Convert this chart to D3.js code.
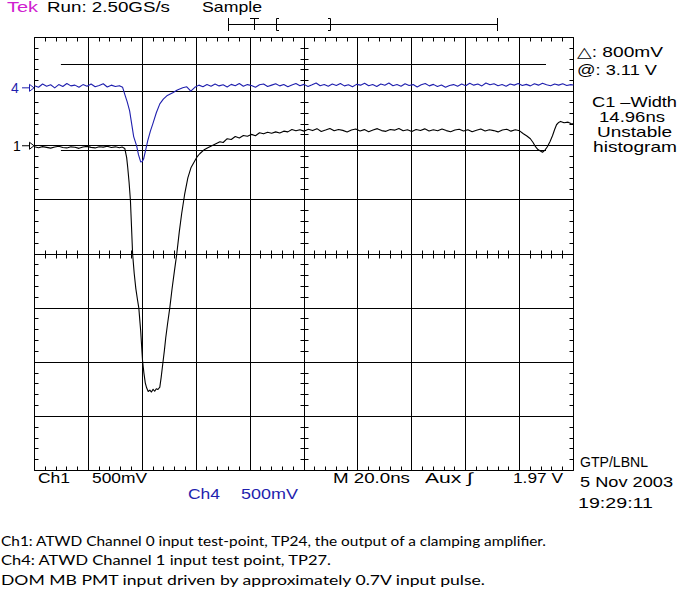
<!DOCTYPE html>
<html><head><meta charset="utf-8">
<script src="https://cdn.jsdelivr.net/npm/d3@7/dist/d3.min.js"></script>
<style>html,body{margin:0;padding:0;background:#fff;}svg{display:block;}</style>
</head><body>
<script>
// ---- data (time in ns, voltage in mV) ----
const timeTicks = [0,20,40,60,80,100,120,140,160,180,200];
const divTicks = [-4,-3,-2,-1,0,1,2,3,4];
const ch1Offset = 2.0;   // divisions
const ch4Offset = 3.07;  // divisions
const mvPerDiv = 500;
const cursorDivs = [3.51, 1.91]; // cursor positions in divisions (800 mV apart on Ch1)

const ch1 = [[0,-10],[1.5,-18],[3,-8],[4.5,-15],[6,-22],[7.5,-12],[9,-5],[10.5,-16],[12,-20],[13.5,-10],[15,-14],[16.5,-24],[18,-12],[19.5,-6],[21,-15],[22.5,-20],[24,-9],[25.5,-13],[27,-4],[28.5,-16],[30,-10],[31.5,-18],[32.5,-12],[33.5,-25],
[34.2,-110],[34.6,-203],[35.1,-340],[35.6,-508],[36,-750],[36.4,-998],[37,-1180],[37.6,-1320],[38.2,-1420],[38.7,-1497],[39.1,-1620],[39.4,-1709],[39.8,-1870],[40.1,-1987],[40.6,-2100],[41.1,-2190],[41.6,-2236],[42.2,-2270],[42.8,-2258],[43.4,-2275],[44,-2250],[44.6,-2268],[45.2,-2245],[45.8,-2252],[46.5,-2230],[47,-2140],[47.6,-2014],[48.2,-1890],[48.7,-1774],[49.4,-1640],[50.2,-1497],[51,-1330],[51.9,-1160],[52.8,-998],[53.7,-800],[54.6,-628],[55.7,-450],[56.9,-296],[58.1,-200],[59.5,-139],[60.4,-100],[61.3,-74],[62.8,-40],[64.3,-18],[65.8,0],[67.3,18],[68.8,37],
[70,30],[71.5,65],[73,58],[74.5,85],[76,72],[77.5,95],[79,88],[80.5,105],[82,92],[83.5,120],[85,110],[86.5,125],[88,115],[89.5,128],[91,118],[92.5,135],[94,128],[95.5,150],[97,138],[98.5,148],
[100,135],[101.6,152],[103.2,140],[104.8,158],[106.4,132],[108,145],[109.6,160],[111.2,138],[112.8,150],[114.4,142],[116,128],[117.6,146],[119.2,155],[120.8,137],[122.4,149],[124,130],[125.6,145],[127.2,158],[128.8,140],[130.4,133],[132,150],[133.6,144],[135.2,160],[136.8,138],[138.4,147],[140,132],[141.6,150],[143.2,141],[144.8,156],[146.4,136],[148,148],[149.6,138],[151.2,155],[152.8,140],[154.4,130],[156,146],[157.6,152],[159.2,137],[160.8,148],[162.4,130],[164,143],[165.6,155],[167.2,136],[168.8,148],[170.4,140],[172,128],[173.6,146],[175.2,152],[176.8,135],[178.4,147],[180,138],
[181.4,111],[182.7,90],[184,65],[185,30],[185.9,-9],[186.8,-35],[187.7,-48],[188.5,-60],[189.4,-40],[190.3,-9],[191.3,40],[192.2,92],[193,150],[193.7,194],[194.5,215],[195.2,225],[196.5,212],[198,218],[199,205],[200,203]];

const ch4 = [[0,20],[1.5,5],[3,35],[4.5,15],[6,28],[7.5,0],[9,30],[10.5,12],[12,40],[13.5,18],[15,25],[16.5,5],[18,30],[19.5,14],[21,35],[22.5,10],[24,22],[25.5,38],[27,8],[28.5,25],[30,12],[31.5,20],[32.7,5],
[33.5,-60],[34.4,-130],[35.3,-213],[36.1,-340],[36.8,-450],[37.9,-536],[38.6,-620],[39.4,-684],[40,-680],[40.5,-656],[41.2,-580],[42,-490],[43,-400],[43.9,-333],[45.2,-230],[46.5,-148],[47.8,-105],[49.1,-74],[50.2,-60],[51.3,-46],[53,-20],[55,0],[56.5,10],[58,-30],[59.5,5],[61,25],[62.5,10],[64,30],[65.5,15],[67,35],
[68.5,18],[70,28],[71.5,8],[73,32],[74.5,20],[76,40],[77.5,15],[79,30],[80.5,22],[82,5],[83.5,28],[85,35],[86.5,12],[88,25],[89.5,38],[91,18],[92.5,30],[94,10],[95.5,26],[97,40],[98.5,20],[100,32],[101.5,12],[103,28],[104.5,45],[106,20],[107.5,30],[109,15],[110.5,35],[112,22],[113.5,40],[115,18],[116.5,28],[118,10],[119.5,32],[121,25],[122.5,42],[124,20],[125.5,30],[127,12],[128.5,35],[130,24],[131.5,45],[133,20],[134.5,30],[136,15],[137.5,38],[139,22],[140.5,30],[142,8],[143.5,28],[145,40],[146.5,18],[148,32],[149.5,12],[151,26],[152.5,5],[154,22],[155.5,30],[157,15],[158.5,35],[160,20],[161.5,42],[163,25],[164.5,35],[166,18],[167.5,45],[169,28],[170.5,38],[172,20],[173.5,30],[175,15],[176.5,35],[178,25],[179.5,40],[181,22],[182.5,32],[184,18],[185.5,38],[187,25],[188.5,42],[190,28],[191.5,20],[193,35],[194.5,25],[196,38],[197.5,22],[199,30],[200,26]];

// ---- layout ----
const W = 679, H = 591;
const svg = d3.select("body").append("svg").attr("width", W).attr("height", H);
svg.append("rect").attr("width", W).attr("height", H).attr("fill", "#fff");

const x = d3.scaleLinear().domain([0, 200]).range([34.5, 573.5]);
const y = d3.scaleLinear().domain([-4, 4]).range([470.5, 37.5]);
const px = v => Math.round(x(v) - 0.5) + 0.5;
const py = v => Math.round(y(v) - 0.5) + 0.5;
const BLUE = "#1f1fae", BLK = "#000";
const FONT = "Liberation Sans, DejaVu Sans, sans-serif";

const g = svg.append("g").attr("stroke", BLK).attr("stroke-width", 1).attr("fill", "none");
// grid lines
g.selectAll(".vl").data(timeTicks).join("line")
  .attr("x1", d => px(d)).attr("x2", d => px(d)).attr("y1", py(4)).attr("y2", py(-4));
g.selectAll(".hl").data(divTicks).join("line")
  .attr("y1", d => py(d)).attr("y2", d => py(d)).attr("x1", px(0)).attr("x2", px(200));

// minor ticks
const minorT = d3.range(0, 200.001, 4);
const minorV = d3.range(-4, 4.001, 0.2);
minorT.forEach(t => {
  const xx = px(t);
  g.append("line").attr("x1", xx).attr("x2", xx).attr("y1", py(0) - 4).attr("y2", py(0) + 4);
  g.append("line").attr("x1", xx).attr("x2", xx).attr("y1", py(4)).attr("y2", py(4) + 4);
  g.append("line").attr("x1", xx).attr("x2", xx).attr("y1", py(-4)).attr("y2", py(-4) - 4);
});
minorV.forEach(v => {
  const yy = py(v);
  g.append("line").attr("y1", yy).attr("y2", yy).attr("x1", px(100) - 4).attr("x2", px(100) + 4);
  g.append("line").attr("y1", yy).attr("y2", yy).attr("x1", px(0)).attr("x2", px(0) + 4);
  g.append("line").attr("y1", yy).attr("y2", yy).attr("x1", px(200)).attr("x2", px(200) - 4);
});

// horizontal bar cursors
cursorDivs.forEach(d => g.append("line")
  .attr("x1", x(9.8)).attr("x2", x(189.8)).attr("y1", py(d)).attr("y2", py(d)));

// traces
const line = off => d3.line().x(d => x(d[0])).y(d => y(off + d[1] / mvPerDiv));
svg.append("path").datum(ch4).attr("d", line(ch4Offset)).attr("fill", "none").attr("stroke", BLUE).attr("stroke-width", 1.1).attr("stroke-linejoin", "round");
svg.append("path").datum(ch1).attr("d", line(ch1Offset)).attr("fill", "none").attr("stroke", BLK).attr("stroke-width", 1.1).attr("stroke-linejoin", "round");

// channel ground markers
function marker(off, label, col, lx) {
  const yy = y(off);
  svg.append("text").attr("x", lx).attr("y", yy + 5).attr("font-family", FONT).attr("font-size", 14).attr("fill", col).text(label);
  svg.append("line").attr("x1", 22).attr("x2", 30).attr("y1", yy).attr("y2", yy).attr("stroke", col);
  svg.append("path").attr("d", `M29.5,${yy-3.5}L34,${yy}L29.5,${yy+3.5}Z`).attr("fill", "#fff").attr("stroke", col);
}
marker(ch4Offset, "4", BLUE, 11);
marker(ch1Offset, "1", BLK, 13);

// trigger / record bar
const tb = svg.append("g").attr("stroke", BLK).attr("fill", "none");
tb.append("line").attr("x1", 228.5).attr("x2", 497.5).attr("y1", 24.5).attr("y2", 24.5);
tb.append("line").attr("x1", 228.5).attr("x2", 228.5).attr("y1", 18).attr("y2", 31);
tb.append("line").attr("x1", 497.5).attr("x2", 497.5).attr("y1", 18).attr("y2", 31);
tb.append("path").attr("d", "M250,18.5H259M254.5,18.5V30");
tb.append("path").attr("d", "M279,18.5H276.5V30.5H279");
tb.append("path").attr("d", "M328,18.5H330.5V30.5H328");

// texts
const texts = [
  {t: "Tek", x: 7, y: 12, w: 31, c: "#d020d0"},
  {t: "Run: 2.50GS/s", x: 47, y: 12, w: 123},
  {t: "Sample", x: 202, y: 12, w: 60},
  {t: "\u25B3: 800mV", x: 577, y: 57, w: 86},
  {t: "@: 3.11 V", x: 577, y: 75, w: 80},
  {t: "C1 \u2013Width", x: 592, y: 107, w: 85},
  {t: "14.96ns", x: 599, y: 122, w: 66},
  {t: "Unstable", x: 597, y: 137, w: 75},
  {t: "histogram", x: 593, y: 152, w: 84},
  {t: "Ch1", x: 38, y: 483, w: 32},
  {t: "500mV", x: 92, y: 483, w: 55},
  {t: "Ch4", x: 188, y: 499, w: 32, c: BLUE},
  {t: "500mV", x: 241, y: 499, w: 57, c: BLUE},
  {t: "M 20.0ns", x: 333, y: 483, w: 77},
  {t: "Aux \u222B", x: 425, y: 483, w: 48},
  {t: "1.97 V", x: 513, y: 483, w: 50},
  {t: "GTP/LBNL", x: 580, y: 467, w: 68},
  {t: "5 Nov 2003", x: 580, y: 487, w: 93},
  {t: "19:29:11", x: 578, y: 508, w: 75}
];
svg.selectAll(".tx").data(texts).join("text")
  .attr("x", d => d.x).attr("y", d => d.y)
  .attr("font-family", FONT).attr("font-size", 14.5)
  .attr("fill", d => d.c || BLK)
  .attr("textLength", d => d.w).attr("lengthAdjust", "spacingAndGlyphs")
  .text(d => d.t);

const caption = [
  {t: "Ch1: ATWD Channel 0 input test-point, TP24, the output of a clamping amplifier.", y: 546, w: 545},
  {t: "Ch4: ATWD Channel 1 input test point, TP27.", y: 565, w: 330},
  {t: "DOM MB PMT input driven by approximately 0.7V input pulse.", y: 585, w: 484}
];
svg.selectAll(".cap").data(caption).join("text")
  .attr("x", 1).attr("y", d => d.y)
  .attr("font-family", "Lato, Open Sans, sans-serif").attr("font-size", 14)
  .attr("fill", BLK)
  .attr("textLength", d => d.w).attr("lengthAdjust", "spacingAndGlyphs")
  .text(d => d.t);
</script>
</body></html>
